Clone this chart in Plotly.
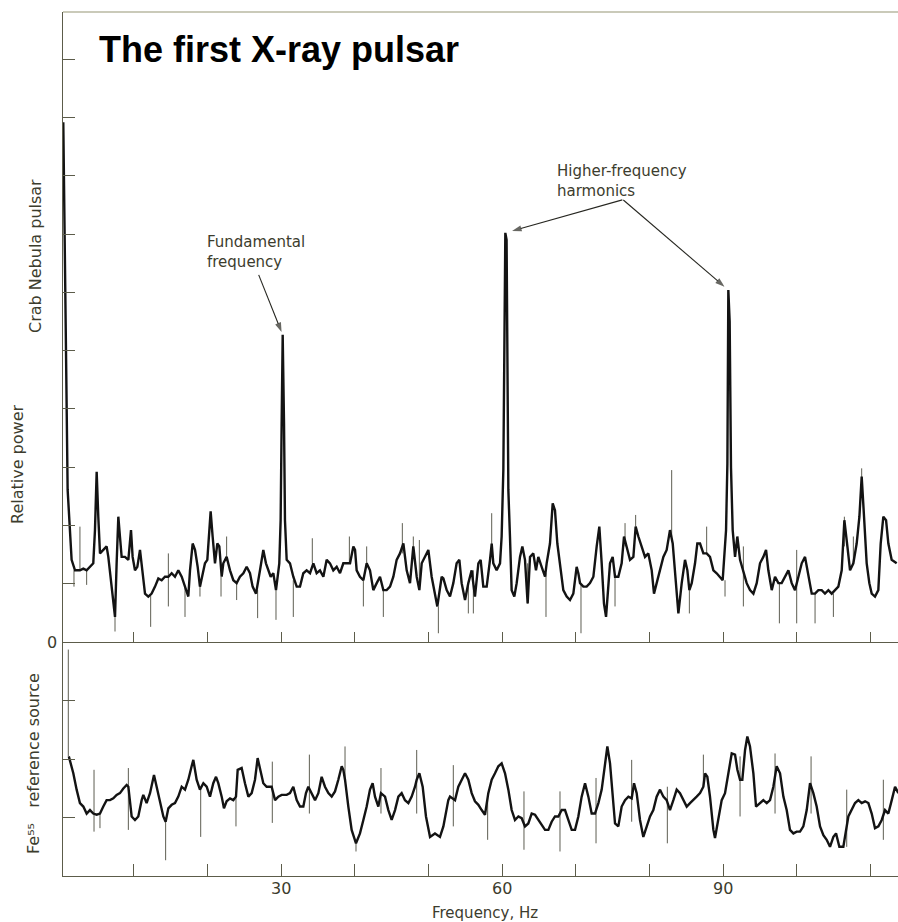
import plotly.graph_objects as go

# ---------------- data ----------------
# Crab Nebula pulsar: relative power vs frequency (Hz)
crab_hz = [
    0.45, 0.90, 1.04, 1.58, 2.04, 2.71, 3.17, 3.62, 4.07, 4.52,
    4.75, 4.98, 5.20, 5.43, 5.88, 6.33, 6.56, 7.01, 7.24, 7.47,
    7.69, 7.92, 8.14, 8.37, 8.82, 9.28, 9.64, 9.86, 10.18, 10.50,
    10.86, 11.22, 11.54, 11.99, 12.44, 12.90, 13.35, 13.80, 14.25, 14.71,
    15.16, 15.61, 16.06, 16.52, 16.97, 17.42, 17.65, 18.01, 18.33, 18.69,
    19.00, 19.32, 19.68, 20.00, 20.27, 20.45, 20.72, 21.04, 21.36, 21.63,
    21.95, 22.17, 22.62, 23.08, 23.53, 23.98, 24.43, 24.89, 25.34, 25.79,
    26.15, 26.61, 27.15, 27.60, 27.96, 28.28, 28.60, 28.96, 29.32, 29.77,
    29.95, 30.09, 30.23, 30.41, 30.54, 30.77, 31.22, 31.67, 32.13, 32.58,
    33.03, 33.48, 33.94, 34.39, 34.84, 35.29, 35.75, 36.20, 36.65, 37.10,
    37.56, 38.01, 38.46, 38.91, 39.37, 39.82, 40.05, 40.27, 40.72, 41.18,
    41.63, 42.08, 42.53, 42.99, 43.44, 43.89, 44.34, 44.80, 45.25, 45.70,
    46.15, 46.61, 47.06, 47.51, 47.96, 48.42, 48.78, 49.10, 49.55, 50.00,
    50.45, 50.90, 51.22, 51.81, 52.04, 52.49, 52.94, 53.39, 53.84, 54.21,
    54.52, 54.98, 55.43, 55.88, 56.33, 56.79, 57.10, 57.46, 57.92, 58.37,
    58.60, 58.82, 59.27, 59.73, 59.95, 60.18, 60.45, 60.62, 60.86, 61.08,
    61.31, 61.67, 61.99, 62.44, 62.76, 63.12, 63.48, 63.80, 64.25, 64.61,
    64.93, 65.38, 65.84, 66.06, 66.51, 66.88, 67.19, 67.51, 67.87, 68.32,
    68.78, 69.23, 69.68, 70.13, 70.36, 70.59, 71.04, 71.49, 71.94, 72.40,
    72.85, 73.21, 73.53, 73.84, 74.12, 74.43, 74.66, 75.02, 75.34, 75.79,
    76.24, 76.56, 76.92, 77.37, 77.83, 78.14, 78.51, 78.96, 79.41, 79.86,
    80.32, 80.63, 80.99, 81.45, 81.90, 82.35, 82.80, 83.17, 83.48, 83.94,
    84.39, 84.84, 85.16, 85.43, 85.75, 86.20, 86.51, 86.88, 87.33, 87.78,
    88.23, 88.69, 89.14, 89.59, 89.95, 90.41, 90.59, 90.72, 90.90, 91.08,
    91.31, 91.63, 91.94, 92.31, 92.76, 93.21, 93.66, 94.12, 94.57, 95.02,
    95.47, 95.84, 96.15, 96.61, 97.06, 97.51, 97.96, 98.42, 98.87, 99.32,
    99.77, 100.23, 100.68, 101.13, 101.58, 102.04, 102.49, 102.94, 103.39, 103.84,
    104.30, 104.75, 105.20, 105.65, 106.11, 106.47, 106.88, 107.24, 107.69, 108.14,
    108.51, 108.82, 109.14, 109.50, 109.86, 110.18, 110.63, 111.08, 111.40, 111.76,
    112.13, 112.44, 112.89, 113.57,
]
crab_power = [
    8.92, 3.98, 2.61, 1.41, 1.23, 1.23, 1.26, 1.23, 1.29, 1.35,
    1.92, 2.92, 2.15, 1.52, 1.58, 1.64, 1.46, 0.89, 0.61, 0.43,
    1.35, 2.15, 1.81, 1.46, 1.46, 1.41, 1.92, 1.46, 1.23, 1.29,
    1.58, 1.23, 0.83, 0.78, 0.83, 0.95, 1.09, 1.06, 1.12, 1.12,
    1.18, 1.12, 1.23, 1.12, 0.95, 0.78, 1.23, 1.69, 1.58, 1.29,
    0.95, 1.12, 1.35, 1.41, 2.04, 2.24, 1.81, 1.35, 1.69, 1.64,
    1.12, 1.35, 1.46, 1.23, 1.06, 1.01, 1.12, 1.18, 1.29, 1.18,
    0.95, 0.83, 1.23, 1.58, 1.35, 1.23, 1.12, 1.18, 0.89, 1.35,
    2.09, 3.78, 5.27, 3.75, 2.09, 1.41, 1.35, 1.12, 0.95, 0.95,
    1.18, 1.23, 1.18, 1.35, 1.18, 1.23, 1.12, 1.41, 1.35, 1.23,
    1.29, 1.18, 1.35, 1.35, 1.35, 1.64, 1.58, 1.23, 1.12, 1.06,
    1.35, 1.23, 0.89, 1.01, 1.12, 0.89, 0.89, 0.95, 1.12, 1.41,
    1.52, 1.69, 1.23, 1.01, 1.64, 1.12, 0.89, 1.35, 1.46, 1.58,
    1.12, 0.78, 0.61, 1.12, 1.09, 0.89, 0.78, 1.01, 1.35, 1.41,
    1.01, 0.72, 1.01, 1.23, 0.78, 1.35, 1.41, 0.95, 0.95, 1.41,
    1.69, 1.35, 1.23, 1.35, 1.81, 2.95, 7.02, 6.90, 2.61, 1.81,
    0.89, 0.78, 1.01, 1.46, 1.64, 1.41, 0.66, 1.46, 1.52, 1.23,
    1.46, 1.29, 1.12, 1.35, 1.69, 2.38, 2.26, 1.69, 1.35, 0.89,
    0.78, 0.72, 0.83, 1.29, 1.18, 1.01, 0.95, 0.95, 1.01, 1.12,
    1.64, 1.98, 1.35, 0.66, 0.43, 0.89, 1.35, 1.46, 1.12, 1.12,
    1.35, 1.81, 1.64, 1.41, 1.46, 1.98, 1.81, 1.64, 1.46, 1.52,
    1.23, 0.83, 1.01, 1.23, 1.46, 1.58, 1.92, 1.69, 1.23, 0.49,
    1.01, 1.41, 1.23, 0.89, 1.01, 1.35, 1.69, 1.69, 1.52, 1.52,
    1.46, 1.23, 1.18, 1.12, 1.06, 1.92, 3.06, 6.04, 5.50, 3.00,
    1.92, 1.46, 1.81, 1.41, 1.23, 1.01, 0.89, 0.83, 1.01, 1.35,
    1.46, 1.58, 1.23, 0.89, 1.12, 1.01, 1.01, 1.12, 1.23, 1.01,
    0.89, 1.12, 1.35, 1.46, 1.12, 0.83, 0.83, 0.89, 0.89, 0.83,
    0.89, 0.83, 0.89, 0.95, 1.23, 2.09, 1.64, 1.23, 1.35, 1.69,
    2.15, 2.84, 2.15, 1.35, 1.01, 0.83, 0.78, 0.89, 1.69, 2.15,
    2.09, 1.69, 1.41, 1.35,
]
# single-sample spikes of the Crab spectrum (frequency, low end, high end)
crab_spike_hz = [1.90, 2.71, 3.62, 7.47, 12.31, 14.71, 16.97, 19.00, 21.86, 22.62,
                 23.98, 26.83, 29.32, 31.67, 34.25, 39.28, 41.18, 41.63, 43.89, 46.47,
                 47.96, 48.78, 51.36, 55.43, 56.11, 58.60, 63.48, 65.97, 70.72, 75.34,
                 76.70, 78.14, 83.03, 85.43, 87.78, 90.27, 92.76, 97.65, 100.00, 102.49,
                 104.98, 106.47, 107.69, 108.82]
crab_spike_low = [0.95, 1.23, 0.98, 0.18, 0.26, 0.61, 0.43, 0.78, 0.78, 1.46,
                  0.72, 0.41, 0.38, 0.43, 1.35, 1.35, 0.61, 1.35, 0.43, 1.52,
                  1.46, 0.89, 0.15, 0.49, 0.49, 1.64, 0.66, 0.43, 0.15, 0.61,
                  1.64, 1.98, 1.75, 0.49, 1.52, 0.78, 0.61, 0.32, 0.32, 0.32,
                  0.43, 1.64, 1.35, 2.50]
crab_spike_high = [1.23, 1.98, 1.23, 0.43, 0.83, 1.52, 0.95, 0.95, 1.12, 1.81,
                   1.01, 0.89, 0.89, 1.06, 1.78, 1.81, 1.06, 1.64, 0.89, 2.04,
                   1.81, 1.75, 0.61, 1.01, 1.23, 2.21, 1.35, 1.18, 0.98, 1.12,
                   2.04, 2.18, 2.95, 0.89, 1.98, 1.06, 1.64, 1.01, 1.58, 0.83,
                   0.83, 2.15, 1.81, 2.98]

# Fe55 reference source
fe55_hz = [
    1.20, 1.81, 2.26, 2.71, 3.17, 3.62, 4.07, 4.52, 4.98, 5.43,
    5.88, 6.33, 6.79, 7.24, 7.69, 8.14, 8.60, 9.05, 9.28, 9.73,
    10.18, 10.63, 11.09, 11.31, 11.76, 12.22, 12.76, 13.12, 13.57, 14.03,
    14.34, 14.71, 15.16, 15.61, 16.06, 16.52, 16.97, 17.42, 17.87, 18.10,
    18.55, 19.00, 19.46, 19.91, 20.36, 20.81, 21.18, 21.49, 21.95, 22.26,
    22.62, 23.08, 23.53, 23.89, 24.12, 24.66, 25.11, 25.57, 26.02, 26.47,
    26.83, 27.15, 27.60, 28.05, 28.51, 28.73, 29.19, 29.64, 30.09, 30.77,
    31.22, 31.67, 32.13, 32.58, 33.03, 33.39, 33.71, 34.16, 34.62, 35.07,
    35.52, 35.97, 36.43, 36.88, 37.33, 37.78, 38.24, 38.46, 38.69, 39.14,
    39.59, 40.18, 40.72, 41.18, 41.63, 42.08, 42.44, 42.76, 43.21, 43.57,
    44.12, 44.57, 45.02, 45.48, 45.93, 46.38, 46.83, 47.29, 47.74, 48.19,
    48.42, 48.78, 49.23, 49.68, 50.23, 50.90, 51.58, 52.04, 52.71, 52.94,
    53.62, 54.07, 54.52, 54.98, 55.43, 55.88, 56.33, 56.79, 57.24, 57.69,
    58.14, 58.60, 59.05, 59.50, 59.95, 60.41, 60.86, 61.31, 61.76, 62.22,
    62.67, 63.12, 63.57, 64.03, 64.48, 64.93, 65.38, 65.84, 66.29, 66.74,
    67.19, 67.65, 68.10, 68.55, 69.00, 69.46, 69.91, 70.36, 70.81, 71.27,
    71.72, 72.17, 72.62, 73.08, 73.53, 73.98, 74.30, 74.66, 75.02, 75.34,
    75.79, 76.24, 76.70, 77.15, 77.60, 77.92, 78.28, 78.73, 79.18, 79.64,
    80.09, 80.54, 80.99, 81.45, 81.90, 82.35, 82.80, 83.26, 83.71, 84.16,
    84.61, 85.07, 85.52, 85.97, 86.42, 86.88, 87.33, 87.56, 87.87, 88.23,
    88.69, 88.91, 89.37, 89.82, 90.27, 90.72, 91.18, 91.63, 91.95, 92.31,
    92.62, 92.99, 93.30, 93.66, 94.12, 94.48, 95.02, 95.47, 95.93, 96.38,
    96.83, 97.06, 97.28, 97.74, 98.19, 98.64, 99.09, 99.55, 100.00, 100.45,
    100.90, 101.36, 101.81, 102.26, 102.71, 103.17, 103.62, 104.07, 104.52, 104.98,
    105.34, 105.79, 106.33, 107.01, 107.47, 107.92, 108.37, 108.82, 109.28, 109.73,
    110.18, 110.63, 111.09, 111.54, 111.99, 112.44, 112.90, 113.35, 113.80,
]
fe55_power = [
    2.05, 1.76, 1.48, 1.25, 1.19, 1.07, 1.13, 1.07, 1.05, 1.07,
    1.19, 1.30, 1.30, 1.33, 1.39, 1.42, 1.50, 1.56, 1.53, 1.02,
    0.96, 1.02, 1.30, 1.39, 1.25, 1.42, 1.73, 1.53, 1.25, 1.02,
    0.93, 1.16, 1.22, 1.25, 1.36, 1.53, 1.48, 1.65, 1.88, 1.99,
    1.65, 1.48, 1.59, 1.53, 1.36, 1.59, 1.70, 1.59, 1.36, 1.16,
    1.28, 1.33, 1.30, 1.36, 1.82, 1.85, 1.59, 1.36, 1.42, 1.65,
    2.02, 1.82, 1.59, 1.53, 1.53, 1.53, 1.30, 1.36, 1.39, 1.39,
    1.42, 1.53, 1.30, 1.19, 1.19, 1.42, 1.53, 1.42, 1.30, 1.42,
    1.70, 1.53, 1.42, 1.36, 1.45, 1.65, 1.88, 1.82, 1.65, 1.19,
    0.79, 0.56, 0.73, 0.96, 1.19, 1.48, 1.59, 1.36, 1.19, 1.42,
    1.36, 1.13, 0.96, 1.13, 1.36, 1.42, 1.30, 1.25, 1.36, 1.53,
    1.65, 1.76, 1.53, 1.02, 0.67, 0.73, 0.67, 0.85, 1.30, 1.36,
    1.30, 1.53, 1.65, 1.76, 1.65, 1.42, 1.28, 1.22, 1.13, 1.05,
    1.42, 1.65, 1.76, 1.88, 1.93, 1.76, 1.48, 1.13, 0.96, 1.02,
    0.99, 0.85, 0.90, 1.07, 1.05, 0.96, 0.87, 0.79, 0.79, 0.93,
    1.02, 1.02, 1.13, 1.13, 0.96, 0.79, 0.79, 1.02, 1.36, 1.59,
    1.36, 1.07, 1.07, 1.25, 1.48, 1.88, 2.22, 1.93, 1.42, 0.90,
    0.85, 1.19, 1.30, 1.36, 1.33, 1.59, 1.42, 0.96, 0.67, 0.85,
    1.02, 1.13, 1.36, 1.48, 1.36, 1.30, 1.13, 1.30, 1.48, 1.42,
    1.30, 1.19, 1.25, 1.30, 1.36, 1.42, 1.53, 1.76, 1.70, 1.36,
    0.79, 0.65, 1.02, 1.30, 1.42, 1.76, 2.10, 2.08, 1.82, 1.65,
    1.65, 2.16, 2.39, 2.22, 1.76, 1.19, 1.25, 1.30, 1.25, 1.30,
    1.53, 1.76, 1.88, 1.76, 1.36, 1.13, 0.79, 0.73, 0.76, 0.76,
    0.85, 1.13, 1.59, 1.42, 1.19, 0.85, 0.70, 0.62, 0.50, 0.67,
    0.73, 0.50, 0.50, 1.02, 1.13, 1.25, 1.30, 1.25, 1.28, 1.25,
    1.07, 0.82, 0.85, 0.96, 1.13, 1.07, 1.30, 1.53, 1.42,
]
fe55_spike_hz = [1.13, 4.62, 5.43, 9.28, 14.34, 19.10, 23.89, 28.82, 33.85, 38.69,
                 40.18, 43.57, 48.42, 53.39, 58.05, 62.98, 67.87, 72.76, 77.60, 82.44,
                 87.33, 92.31, 97.06, 101.95, 106.79, 111.76]
fe55_spike_low = [2.05, 0.76, 0.82, 0.79, 0.27, 0.67, 0.85, 0.91, 1.07, 1.65,
                  0.42, 1.07, 1.07, 0.85, 0.62, 0.45, 0.42, 0.56, 0.93, 0.56,
                  1.53, 1.02, 1.07, 1.07, 0.50, 0.62]
fe55_spike_high = [3.88, 1.82, 1.07, 1.85, 0.93, 1.48, 1.36, 1.96, 2.08, 2.22,
                   0.56, 1.85, 2.16, 1.90, 1.42, 1.45, 1.45, 1.68, 1.99, 1.53,
                   2.08, 2.05, 2.10, 2.05, 1.48, 1.65]

freq_tick_vals = [10, 20, 30, 40, 50, 60, 70, 80, 90, 100, 110]
freq_labelled = [30, 60, 90]
crab_tick_vals = [0, 1, 2, 3, 4, 5, 6, 7, 8, 9, 10]
fe55_tick_vals = [1, 2, 3]

# ---------------- styling / layout ----------------
TRACE = "#131313"
SPIKE = "#5e5e52"
AXIS = "#5c5c4a"
TEXT = "#3c3c2d"
SMALL_FONT = "DejaVu Sans"

W, H = 898, 922
L, R, T, B = 63, 0, 12, 46
plot_w = W - L - R
plot_h = H - T - B
X_RANGE = [0.41, 113.75]
CRAB_RANGE = [0, 10.81]
FE55_RANGE = [0, 4.01]


def px_x(p):
    return (p - L) / plot_w


def px_y(p):
    return (H - B - p) / plot_h


split = px_y(642)
top_h_px = 642 - T


def spike_path(hz, lo, hi):
    xs, ys = [], []
    for f, a, b in zip(hz, lo, hi):
        xs += [f, f, None]
        ys += [a, b, None]
    return xs, ys


def peak_near(hz, pw, center, half=1.5):
    best = None
    for f, p in zip(hz, pw):
        if abs(f - center) <= half and (best is None or p > best[1]):
            best = (f, p)
    return best


# conversions between top-panel data and screen pixels (for the annotation arrows)
def hz_to_px(f):
    return L + (f - X_RANGE[0]) / (X_RANGE[1] - X_RANGE[0]) * plot_w


def px_to_hz(p):
    return X_RANGE[0] + (p - L) / plot_w * (X_RANGE[1] - X_RANGE[0])


def pow_to_py(v):
    return 642 - v / CRAB_RANGE[1] * top_h_px


def py_to_pow(p):
    return (642 - p) / top_h_px * CRAB_RANGE[1]


fig = go.Figure()
sx, sy = spike_path(crab_spike_hz, crab_spike_low, crab_spike_high)
fig.add_trace(go.Scatter(x=sx, y=sy, mode="lines", line=dict(color=SPIKE, width=1),
                         xaxis="x", yaxis="y", hoverinfo="skip"))
fig.add_trace(go.Scatter(x=crab_hz, y=crab_power, mode="lines",
                         line=dict(color=TRACE, width=2.4), xaxis="x", yaxis="y",
                         name="Crab Nebula pulsar"))
sx, sy = spike_path(fe55_spike_hz, fe55_spike_low, fe55_spike_high)
fig.add_trace(go.Scatter(x=sx, y=sy, mode="lines", line=dict(color=SPIKE, width=1),
                         xaxis="x2", yaxis="y2", hoverinfo="skip"))
fig.add_trace(go.Scatter(x=fe55_hz, y=fe55_power, mode="lines",
                         line=dict(color=TRACE, width=2.4), xaxis="x2", yaxis="y2",
                         name="Fe55 reference source"))

# annotation arrows (tail given in pixels relative to the peak they point at)
ARROW = "#262620"
arrow_specs = [(30, -24, -60, 3), (60, 117, -33, 7), (90, -105, -90, 5)]
for center, dx, dy, standoff in arrow_specs:
    f, p = peak_near(crab_hz, crab_power, center)
    tip_x, tip_y = hz_to_px(f), pow_to_py(p)
    length = (dx * dx + dy * dy) ** 0.5
    tail_x, tail_y = tip_x + dx, tip_y + dy
    end_x = tip_x + dx / length * standoff
    end_y = tip_y + dy / length * standoff
    fig.add_trace(go.Scatter(
        x=[px_to_hz(tail_x), px_to_hz(end_x)], y=[py_to_pow(tail_y), py_to_pow(end_y)],
        mode="lines+markers", xaxis="x", yaxis="y", hoverinfo="skip",
        line=dict(color=ARROW, width=1.1),
        marker=dict(symbol=["circle", "arrow"], size=[0, 10], angleref="previous",
                    color=ARROW, line=dict(width=0)),
        cliponaxis=False))

common_x = dict(range=X_RANGE, showline=True, linecolor=AXIS, linewidth=1.3,
                ticks="inside", tickcolor=AXIS, tickwidth=1.2, tickvals=freq_tick_vals,
                showgrid=False, zeroline=False, domain=[0, 1], showticklabels=False)
common_y = dict(showline=True, linecolor=AXIS, linewidth=1.3, ticks="inside",
                tickcolor=AXIS, tickwidth=1.2, ticklen=12, showgrid=False,
                zeroline=False, showticklabels=False)

fig.update_layout(
    width=W, height=H,
    margin=dict(l=L, r=R, t=T, b=B, pad=0),
    paper_bgcolor="white", plot_bgcolor="white", showlegend=False,
    xaxis=dict(**common_x, anchor="y", ticklen=10),
    xaxis2=dict(**common_x, anchor="y2", ticklen=12),
    yaxis=dict(**common_y, domain=[split, 1], range=CRAB_RANGE, anchor="x",
               tickvals=crab_tick_vals),
    yaxis2=dict(**common_y, domain=[0, split], range=FE55_RANGE, anchor="x2",
                tickvals=fe55_tick_vals),
)

# faint top border of the frame
fig.add_shape(type="line", xref="paper", yref="paper", x0=0, x1=1, y0=1, y1=1,
              line=dict(color="#b9b9a2", width=1.5))

tick_font = dict(family=SMALL_FONT, size=16, color=TEXT)
for v in freq_labelled:
    fig.add_annotation(text=str(v), xref="x2", yref="paper", x=v, y=px_y(888),
                       xanchor="center", yanchor="middle", showarrow=False,
                       font=tick_font)
fig.add_annotation(text=str(crab_tick_vals[0]), xref="paper", yref="y",
                   x=px_x(52), y=crab_tick_vals[0], xanchor="center", yanchor="middle",
                   showarrow=False, font=tick_font)

ann_font = dict(family=SMALL_FONT, size=15, color=TEXT)
fig.add_annotation(text="<b>The first X-ray pulsar</b>", xref="paper", yref="paper",
                   x=px_x(97), y=px_y(49), xanchor="left", yanchor="middle",
                   showarrow=False,
                   font=dict(family="Liberation Sans, Arial", size=36, color="#000000"))
fig.add_annotation(text="Fundamental<br>frequency", xref="paper", yref="paper",
                   x=px_x(205), y=px_y(252), xanchor="left", yanchor="middle",
                   align="left", showarrow=False, font=ann_font)
fig.add_annotation(text="Higher-frequency<br>harmonics", xref="paper", yref="paper",
                   x=px_x(555), y=px_y(181), xanchor="left", yanchor="middle",
                   align="left", showarrow=False, font=ann_font)

side_font = dict(family=SMALL_FONT, size=16, color=TEXT)
fig.add_annotation(text="Crab Nebula pulsar", xref="paper", yref="paper",
                   x=px_x(35), y=px_y(256), textangle=-90, showarrow=False,
                   xanchor="center", yanchor="middle", font=side_font)
fig.add_annotation(text="Relative power", xref="paper", yref="paper",
                   x=px_x(17), y=px_y(465), textangle=-90, showarrow=False,
                   xanchor="center", yanchor="middle", font=side_font)
fig.add_annotation(text="Fe\u2075\u2075   reference source", xref="paper", yref="paper",
                   x=px_x(33), y=px_y(764), textangle=-90, showarrow=False,
                   xanchor="center", yanchor="middle", font=side_font)
fig.add_annotation(text="Frequency, Hz", xref="paper", yref="paper",
                   x=px_x(485), y=px_y(913), showarrow=False,
                   xanchor="center", yanchor="middle", font=ann_font)

fig.write_html("out.html", config={"displayModeBar": False},
               post_script="document.body.style.margin='0';")
